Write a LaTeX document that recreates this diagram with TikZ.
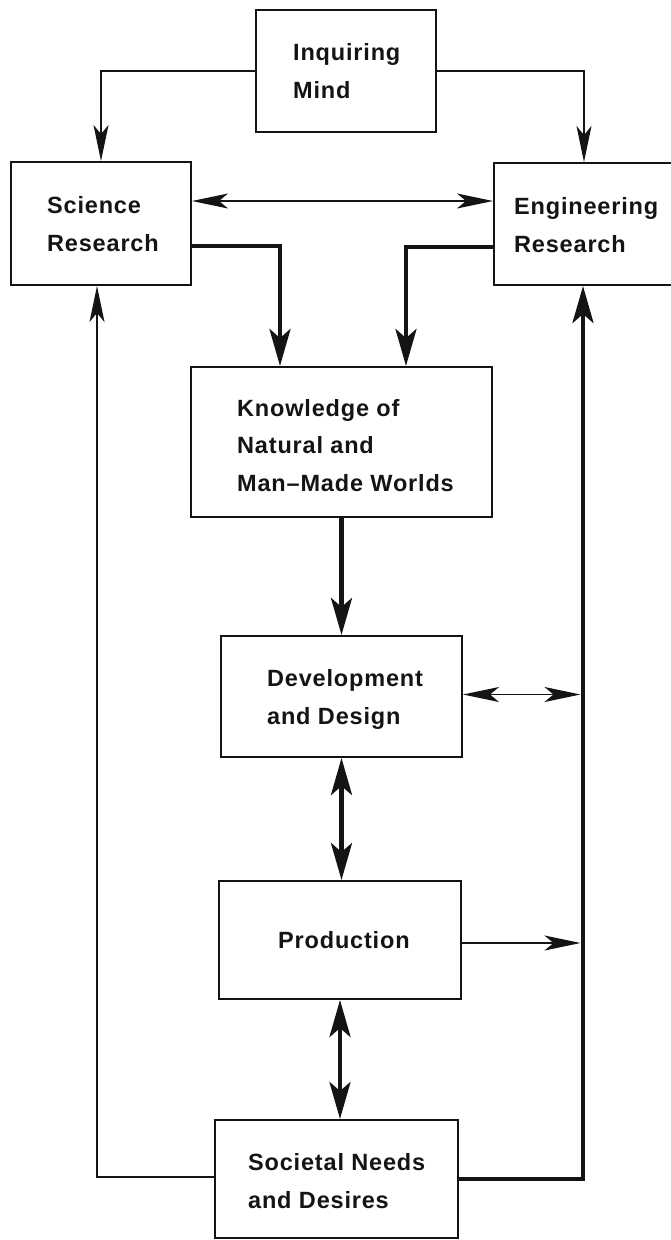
\documentclass[tikz,border=0pt]{standalone}
\usepackage{fontspec}
\setmainfont{Liberation Sans}[LetterSpace=3.5]
\usetikzlibrary{arrows.meta}
\definecolor{ink}{HTML}{141414}
\tikzset{
  boxnode/.style={draw=ink, line width=2pt, inner sep=0pt, rectangle},
  txt/.style={anchor=base west, align=left, inner sep=0pt, text=ink,
    font=\fontsize{23.5}{37.5}\selectfont\bfseries},
  lighthead/.tip={Stealth[length=36pt,width=15pt,inset=9pt]},
  heavyhead/.tip={Stealth[length=37pt,width=21pt,inset=9pt]},
  lightarrow/.style={draw=ink, line width=1.6pt, -lighthead},
  lightdouble/.style={draw=ink, line width=1.6pt, lighthead-lighthead},
  heavyarrow/.style={draw=ink, line width=4.5pt, -heavyhead},
  heavydouble/.style={draw=ink, line width=4.5pt, heavyhead-heavyhead},
}
\begin{document}
\begin{tikzpicture}[x=1pt,y=-1pt]
\useasboundingbox (0,0) rectangle (671,1240);
\clip (0,0) rectangle (671,1240);
% boxes
\node[boxnode, minimum width=180pt, minimum height=122pt] (IM) at (346,71) {};
\node[boxnode, minimum width=180pt, minimum height=123pt] (SR) at (101,223.5) {};
\node[boxnode, minimum width=186pt, minimum height=122pt] (ER) at (587,224) {};
\node[boxnode, minimum width=301pt, minimum height=150pt] (KN) at (341.5,442) {};
\node[boxnode, minimum width=241pt, minimum height=121pt] (DD) at (341.5,696.5) {};
\node[boxnode, minimum width=242pt, minimum height=118pt] (PR) at (340,940) {};
\node[boxnode, minimum width=243pt, minimum height=118pt] (SN) at (336.5,1179) {};
% texts (anchor = baseline of the last line)
\node[txt] (tIM) at (293,98) {Inquiring\\Mind};
\node[txt] (tSR) at (47,251) {Science\\Research};
\node[txt] (tER) at (514,252) {Engineering\\Research};
\node[txt] (tKN) at (237,491) {Knowledge of\\Natural and\\Man--Made Worlds};
\node[txt] (tDD) at (267,724) {Development\\and Design};
\node[txt] (tPR) at (278,948) {Production};
\node[txt] (tSN) at (248,1208) {Societal Needs\\and Desires};
% helper coordinates
\coordinate (rail) at ([xshift=-4pt]ER.south);
\coordinate (railL) at ([xshift=-6.5pt]ER.south);
% connectors
\draw[lightarrow] (IM.west) -| (SR.north);
\draw[lightarrow] (IM.east) -| ([xshift=-3pt]ER.north);
\draw[lightdouble] ([yshift=22.5pt]SR.east) -- ([yshift=23pt]ER.west);
\draw[heavyarrow] ([yshift=-22.5pt]SR.east) -| ([xshift=90pt]KN.north west);
\draw[heavyarrow] ([yshift=-23pt]ER.west) -| ([xshift=216pt]KN.north west);
\draw[heavyarrow] (KN.south) -- (DD.north);
\draw[heavydouble] (DD.south) -- (DD.south |- PR.north);
\draw[heavydouble] (PR.south) -- (PR.south |- SN.north);
\draw[lightdouble] ([yshift=2pt]DD.east) -- ([yshift=2pt]DD.east -| railL);
\draw[lightarrow] ([yshift=-3pt]PR.east) -- ([yshift=-3pt]PR.east -| railL);
\draw[heavyarrow] (SN.east) -| (rail);
\draw[lightarrow] ([yshift=2pt]SN.west) -| ([xshift=-4pt]SR.south);
\end{tikzpicture}
\end{document}
